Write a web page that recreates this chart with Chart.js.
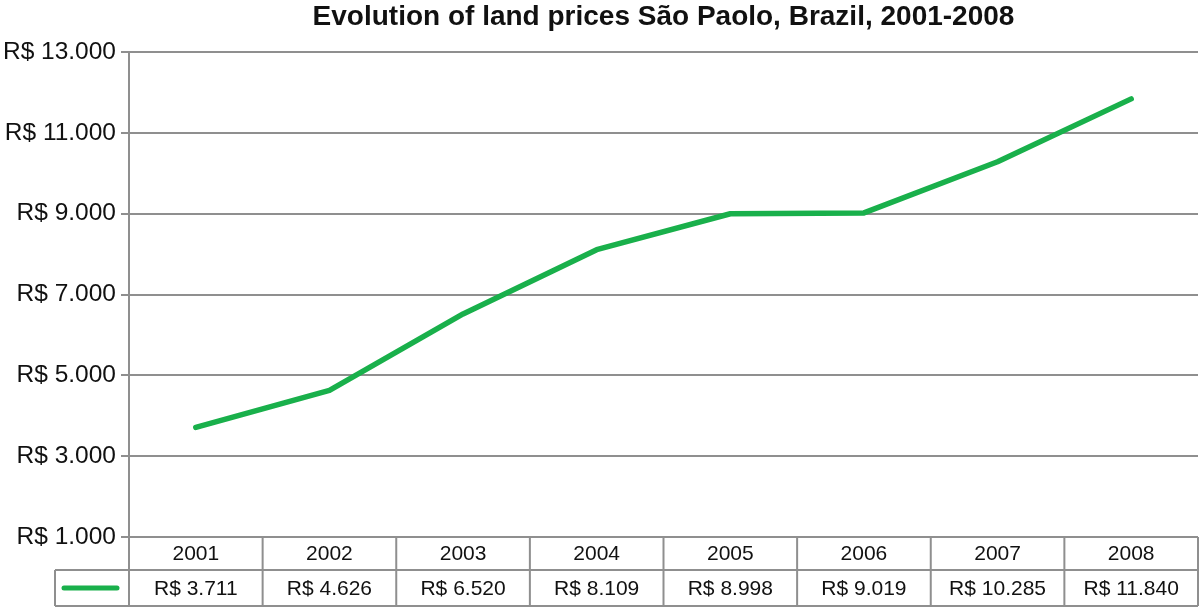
<!DOCTYPE html>
<html>
<head>
<meta charset="utf-8">
<script src="https://cdn.jsdelivr.net/npm/chart.js@4"></script>
<style>
  body { margin: 0; background: #fff; }
</style>
</head>
<body>
<canvas id="landChart" width="1200" height="609"></canvas>
<script>
const years = ["2001", "2002", "2003", "2004", "2005", "2006", "2007", "2008"]
const prices = [3711, 4626, 6520, 8109, 8998, 9019, 10285, 11840]
const priceLabels = ["R$ 3.711", "R$ 4.626", "R$ 6.520", "R$ 8.109", "R$ 8.998", "R$ 9.019", "R$ 10.285", "R$ 11.840"]
const yMin = 1000
const yMax = 13000
const yStep = 2000

const green = "#19b04b"
const gridGray = "#8f8f8f"
const fontFamily = "'Liberation Sans', Arial, Helvetica, sans-serif"

// R$ 13.000 style
const money = (v) => "R$ " + v.toLocaleString("de-DE")

// data table under the plot, drawn from the category scale
const dataTable = {
  id: "dataTable",
  afterDraw(chart) {
    const ctx = chart.ctx
    const x = chart.scales.x
    const area = chart.chartArea
    const colW = (x.right - x.left) / years.length
    const rowTop = area.bottom
    const rowMid = rowTop + 33
    const rowBot = rowTop + 69
    const legendLeft = 55

    ctx.save()
    ctx.strokeStyle = gridGray
    ctx.lineWidth = 2
    ctx.beginPath()
    // left axis line down through the table
    ctx.moveTo(x.left, area.top)
    ctx.lineTo(x.left, rowBot)
    // row lines
    ctx.moveTo(legendLeft, rowMid)
    ctx.lineTo(x.right, rowMid)
    ctx.moveTo(legendLeft, rowBot)
    ctx.lineTo(x.right, rowBot)
    ctx.moveTo(legendLeft, rowMid)
    ctx.lineTo(legendLeft, rowBot)
    for (let i = 1; i <= years.length; i++) {
      const bx = x.left + i * colW
      ctx.moveTo(bx, rowTop)
      ctx.lineTo(bx, rowBot)
    }
    ctx.stroke()

    ctx.fillStyle = "#111"
    ctx.font = "21px " + fontFamily
    ctx.textAlign = "center"
    ctx.textBaseline = "middle"
    years.forEach((yr, i) => {
      const cx = x.getPixelForValue(i)
      ctx.fillText(yr, cx, (rowTop + rowMid) / 2 + 1)
      ctx.fillText(priceLabels[i], cx, (rowMid + rowBot) / 2 + 1)
    })

    // legend key
    ctx.strokeStyle = green
    ctx.lineWidth = 5
    ctx.lineCap = "round"
    ctx.beginPath()
    ctx.moveTo(64, (rowMid + rowBot) / 2)
    ctx.lineTo(117, (rowMid + rowBot) / 2)
    ctx.stroke()
    ctx.restore()
  },
}

new Chart(document.getElementById("landChart"), {
  type: "line",
  data: {
    labels: years,
    datasets: [
      {
        label: "Land price",
        data: prices,
        borderColor: green,
        borderWidth: 5.5,
        borderCapStyle: "round",
        borderJoinStyle: "round",
        pointRadius: 0,
        tension: 0,
        fill: false,
      },
    ],
  },
  options: {
    responsive: false,
    animation: false,
    layout: { padding: { left: 0, right: 2, top: 0, bottom: 72 } },
    plugins: {
      legend: { display: false },
      tooltip: { enabled: false },
      title: {
        display: true,
        fullSize: false,
        text: "Evolution of land prices São Paolo, Brazil, 2001-2008",
        color: "#111",
        font: { family: fontFamily, size: 28, weight: "bold" },
        padding: { top: 0, bottom: 18.4 },
      },
    },
    scales: {
      x: {
        type: "category",
        offset: true,
        display: false,
      },
      y: {
        min: yMin,
        max: yMax,
        afterFit: (scale) => {
          scale.width = 129
        },
        ticks: {
          stepSize: yStep,
          padding: 5,
          color: "#111",
          font: { family: fontFamily, size: 24.5 },
          callback: (v) => money(v),
        },
        grid: {
          color: gridGray,
          lineWidth: 2,
          tickLength: 8,
        },
        border: { color: gridGray, width: 2 },
      },
    },
  },
  plugins: [dataTable],
})
</script>
</body>
</html>
